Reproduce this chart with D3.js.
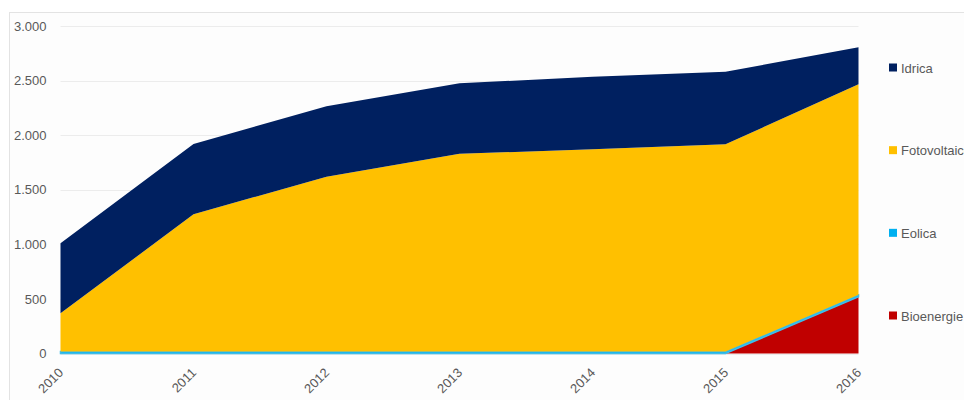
<!DOCTYPE html>
<html>
<head>
<meta charset="utf-8">
<script src="https://cdn.jsdelivr.net/npm/d3@7"></script>
<style>
  html, body { margin: 0; padding: 0; background: #ffffff; }
  svg { display: block; }
  text { font-family: "Liberation Sans", Arial, sans-serif; fill: #595959; }
</style>
</head>
<body>
<svg id="chart" width="964" height="400"></svg>
<script>
// Installed capacity by source (MW), 2010–2016
const years = ["2010", "2011", "2012", "2013", "2014", "2015", "2016"];
const bioenergie   = [0, 0, 0, 0, 0, 0, 520];
const eolica       = [18, 18, 18, 18, 18, 18, 18];
const fotovoltaico = [350, 1257, 1602, 1812, 1852, 1898, 1928];
const idrica       = [641, 644, 645, 645, 666, 665, 339];
const yTicks = [0, 500, 1000, 1500, 2000, 2500, 3000];

// stacking order, bottom to top
const seriesNames = ["Bioenergie", "Eolica", "Fotovoltaico", "Idrica"];
const seriesValues = [bioenergie, eolica, fotovoltaico, idrica];
const colors = {
  Bioenergie: "#C00000",
  Eolica: "#00B0F0",
  Fotovoltaico: "#FFC000",
  Idrica: "#002060"
};
// legend lists the series top to bottom
const legendOrder = ["Idrica", "Fotovoltaico", "Eolica", "Bioenergie"];

const table = years.map((y, i) => {
  const row = { year: y };
  seriesNames.forEach((n, k) => { row[n] = seriesValues[k][i]; });
  return row;
});

const svg = d3.select("#chart");
const margin = { left: 60.5, right: 858.5, top: 26, bottom: 353.5 };

// chart frame
svg.append("rect")
  .attr("x", 9.5).attr("y", 12.5)
  .attr("width", 1000).attr("height", 420)
  .attr("fill", "#fdfdfd")
  .attr("stroke", "#e3e3e3");

const x = d3.scalePoint().domain(years).range([margin.left, margin.right]);
const y = d3.scaleLinear().domain([0, 3000]).range([margin.bottom, margin.top]);

// gridlines
svg.append("g")
  .selectAll("line")
  .data(yTicks)
  .join("line")
  .attr("x1", margin.left).attr("x2", margin.right)
  .attr("y1", d => Math.round(y(d)) + 0.5).attr("y2", d => Math.round(y(d)) + 0.5)
  .attr("stroke", "#ececec");

// y axis labels
const fmt = d3.formatLocale({ decimal: ",", thousands: ".", grouping: [3], currency: ["", "€"] }).format(",");
const yAxis = svg.append("g")
  .attr("transform", `translate(${margin.left},0)`)
  .call(d3.axisLeft(y).tickValues(yTicks).tickFormat(fmt).tickSize(0).tickPadding(14));
yAxis.select(".domain").remove();
yAxis.selectAll("text")
  .style("font-size", "13px")
  .style("font-family", "'Liberation Sans', Arial, sans-serif")
  .attr("fill", "#595959");

// stacked areas
const stack = d3.stack().keys(seriesNames);
const layers = stack(table);
const area = d3.area()
  .x(d => x(d.data.year))
  .y0(d => y(d[0]))
  .y1(d => y(d[1]));

svg.append("g")
  .selectAll("path")
  .data(layers)
  .join("path")
  .attr("d", area)
  .attr("fill", d => colors[d.key])
  .attr("stroke", d => d.key === "Eolica" ? "#3fbde8" : "none")
  .attr("stroke-width", d => d.key === "Eolica" ? 1.5 : 0);

// x axis labels, rotated
const xAxis = svg.append("g")
  .attr("transform", `translate(0,${margin.bottom})`)
  .call(d3.axisBottom(x).tickSize(0).tickPadding(0));
xAxis.select(".domain").remove();
xAxis.selectAll("text")
  .style("font-size", "13px")
  .style("font-family", "'Liberation Sans', Arial, sans-serif")
  .attr("fill", "#595959")
  .attr("text-anchor", "end")
  .attr("dy", "0")
  .attr("transform", "translate(3,20) rotate(-45)");

// legend
const legendY = d3.scalePoint().domain(legendOrder).range([68, 316]);
const legend = svg.append("g")
  .selectAll("g")
  .data(legendOrder)
  .join("g")
  .attr("transform", d => `translate(889,${legendY(d)})`);
legend.append("rect")
  .attr("x", 0).attr("y", -4.5)
  .attr("width", 8).attr("height", 8)
  .attr("fill", d => colors[d]);
legend.append("text")
  .attr("x", 12).attr("y", 0)
  .attr("dy", "0.35em")
  .style("font-size", "13px")
  .text(d => d);
</script>
</body>
</html>
